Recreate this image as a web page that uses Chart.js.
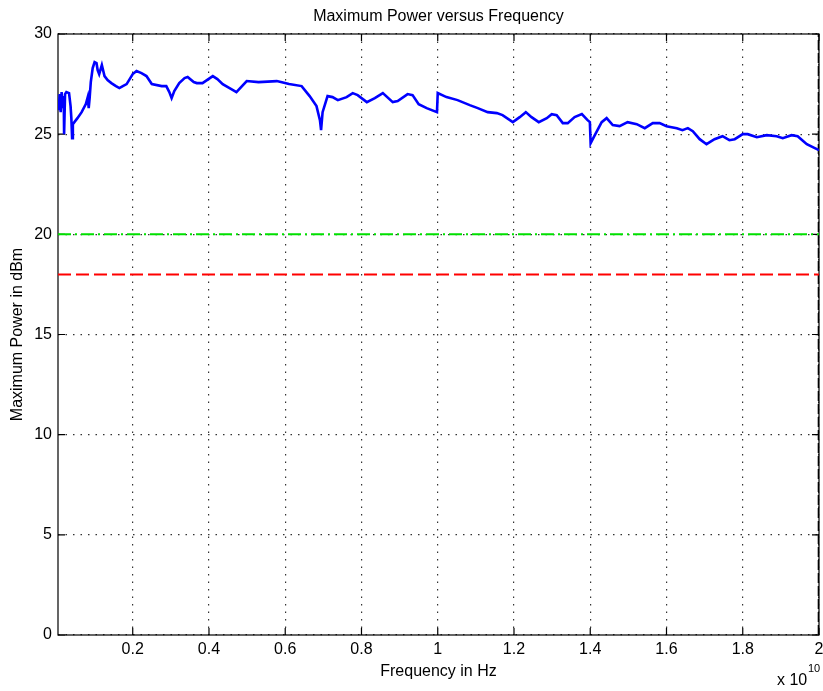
<!DOCTYPE html>
<html>
<head>
<meta charset="utf-8">
<script src="https://cdn.jsdelivr.net/npm/chart.js@4.4.1/dist/chart.umd.min.js"></script>
<style>
html,body{margin:0;padding:0;background:#fff;}
#wrap{width:823px;height:691px;position:relative;}
</style>
</head>
<body>
<div id="wrap"><canvas id="c" width="823" height="691"></canvas></div>
<script>
// ---- data (frequency in GHz, power in dBm) ----
const freqGHz = [0.045,0.06,0.085,0.11,0.135,0.16,0.19,0.20,0.215,0.225,0.26,0.33,0.37,0.39,0.41,0.43,0.47,0.55,0.66,0.77,0.82,0.845,0.87,0.90,0.95,1.0,1.05,1.08,1.12,1.19,1.26,1.34,1.44,1.56,1.65,1.74,1.84,1.92,2.0,2.1,2.23,2.36,2.5,2.76,2.88,2.96,3.02,3.09,3.22,3.36,3.44,3.6,3.68,3.83,4.10,4.22,4.36,4.54,4.72,4.99,5.3,5.78,6.1,6.43,6.64,6.82,6.91,6.94,6.98,7.11,7.24,7.38,7.61,7.77,7.90,8.14,8.35,8.56,8.82,8.95,9.21,9.34,9.50,9.71,9.98,10.0,10.23,10.52,10.84,11.05,11.31,11.55,11.70,11.97,12.15,12.31,12.46,12.65,12.86,12.99,13.12,13.28,13.41,13.59,13.78,13.93,13.99,14.01,14.12,14.30,14.43,14.59,14.77,14.98,15.22,15.43,15.64,15.82,16.0,16.27,16.42,16.56,16.69,16.87,17.05,17.26,17.47,17.65,17.79,18.0,18.13,18.37,18.63,18.89,19.05,19.28,19.44,19.68,19.89,20.0];
const powerDbm = [26.7,26.2,27.0,26.1,27.1,26.3,26.9,25.0,25.0,27.0,27.1,27.05,26.4,25.8,24.8,25.5,25.6,25.8,26.1,26.5,26.85,26.3,26.8,27.6,28.3,28.6,28.55,28.2,28.0,28.45,27.9,27.7,27.55,27.4,27.3,27.4,27.5,27.75,28.0,28.15,28.05,27.9,27.5,27.4,27.4,27.1,26.8,27.15,27.55,27.8,27.85,27.6,27.55,27.55,27.9,27.75,27.5,27.3,27.1,27.65,27.6,27.65,27.5,27.4,26.9,26.4,25.7,25.2,26.1,26.9,26.85,26.7,26.85,27.05,26.95,26.6,26.8,27.05,26.6,26.65,27.0,26.95,26.5,26.3,26.1,27.05,26.85,26.7,26.45,26.3,26.1,26.05,25.95,25.6,25.85,26.1,25.85,25.6,25.8,26.0,25.95,25.55,25.55,25.85,26.0,25.7,25.6,24.55,24.95,25.6,25.8,25.45,25.4,25.6,25.5,25.3,25.55,25.55,25.4,25.3,25.2,25.3,25.15,24.75,24.5,24.75,24.9,24.7,24.75,25.0,25.0,24.85,24.95,24.9,24.8,24.95,24.9,24.5,24.3,24.2];
const limitGreen = 20;
const limitRed = 18;
const xMinHz = 4e7;
const xMaxHz = 2e10;
const xTickVals = [0.2,0.4,0.6,0.8,1,1.2,1.4,1.6,1.8,2];   // x 10^10 Hz
const yTickVals = [0,5,10,15,20,25,30];
const titleText = 'Maximum Power versus Frequency';
const xLabel = 'Frequency in Hz';
const yLabel = 'Maximum Power in dBm';

const FONT = '"Liberation Sans", Arial, Helvetica, sans-serif';

const mainData = freqGHz.map((f,i)=>({x:f*1e9, y:powerDbm[i]}));

const axesPlugin = {
  id:'matlabAxes',
  beforeDatasetsDraw(chart){
    const {ctx, chartArea:a, scales:{x,y}} = chart;
    ctx.save();
    ctx.strokeStyle = '#000';
    ctx.lineWidth = 1.2;
    ctx.setLineDash([]);
    ctx.strokeRect(a.left, a.top, a.right-a.left, a.bottom-a.top);
    const tl = 7;
    ctx.beginPath();
    xTickVals.forEach(v=>{
      const px = x.getPixelForValue(v*1e10);
      ctx.moveTo(px, a.bottom); ctx.lineTo(px, a.bottom-tl);
      ctx.moveTo(px, a.top); ctx.lineTo(px, a.top+tl);
    });
    yTickVals.forEach(v=>{
      const py = y.getPixelForValue(v);
      ctx.moveTo(a.left, py); ctx.lineTo(a.left+tl, py);
      ctx.moveTo(a.right, py); ctx.lineTo(a.right-tl, py);
    });
    ctx.stroke();
    ctx.restore();
  },
  afterDraw(chart){
    const {ctx, chartArea:a} = chart;
    ctx.save();
    ctx.fillStyle = '#000';
    ctx.font = '16px ' + FONT;
    ctx.textAlign = 'center';
    ctx.textBaseline = 'middle';
    ctx.fillText(titleText, (a.left+a.right)/2, 17);
    ctx.textAlign = 'left';
    ctx.textBaseline = 'alphabetic';
    ctx.fillText('x 10', 777, 685);
    ctx.font = '11px ' + FONT;
    ctx.fillText('10', 808, 672);
    ctx.restore();
  }
};

new Chart(document.getElementById('c'), {
  type:'line',
  data:{
    datasets:[
      {data:mainData, borderColor:'#0000ff', borderWidth:2.6, pointRadius:0, tension:0, fill:false},
      {data:[{x:xMinHz,y:limitGreen},{x:xMaxHz,y:limitGreen}], borderColor:'#00e000', borderWidth:2, borderDash:[13,4,2,4], pointRadius:0, fill:false},
      {data:[{x:xMinHz,y:limitRed},{x:xMaxHz,y:limitRed}], borderColor:'#ff0000', borderWidth:2, borderDash:[13,5], pointRadius:0, fill:false},
      {data:[{x:xMaxHz,y:0},{x:xMaxHz,y:30}], borderColor:'#000000', borderWidth:2.6, borderDash:[10,3], pointRadius:0, fill:false}
    ]
  },
  options:{
    responsive:false,
    animation:false,
    layout:{padding:{left:0,right:4,top:34,bottom:0}},
    plugins:{legend:{display:false}, title:{display:false}, tooltip:{enabled:false}},
    scales:{
      x:{
        type:'linear', min:xMinHz, max:xMaxHz,
        afterBuildTicks:s=>{ s.ticks = xTickVals.map(v=>({value:v*1e10})); },
        afterFit:s=>{ s.height = 56; s.paddingLeft = 0; s.paddingRight = 0; },
        ticks:{color:'#000', font:{family:FONT,size:16}, padding:5.4, maxRotation:0, autoSkip:false,
          callback:v=>String(Number((v/1e10).toFixed(1)))},
        grid:{color:'rgba(0,0,0,0.8)', lineWidth:1.2, drawTicks:false},
        border:{display:false, dash:[1.5,6]},
        title:{display:true, text:xLabel, color:'#000', font:{family:FONT,size:16}, padding:{top:0,bottom:9.4}}
      },
      y:{
        type:'linear', min:0, max:30,
        afterBuildTicks:s=>{ s.ticks = yTickVals.map(v=>({value:v})); },
        afterFit:s=>{ s.width = 58; s.paddingTop = 0; s.paddingBottom = 0; },
        ticks:{color:'#000', font:{family:FONT,size:16}, padding:6, autoSkip:false},
        grid:{color:'rgba(0,0,0,0.8)', lineWidth:1.2, drawTicks:false},
        border:{display:false, dash:[1.5,6]},
        title:{display:true, text:yLabel, color:'#000', font:{family:FONT,size:16}, padding:{top:8.4,bottom:0}}
      }
    }
  },
  plugins:[axesPlugin]
});
</script>
</body>
</html>
